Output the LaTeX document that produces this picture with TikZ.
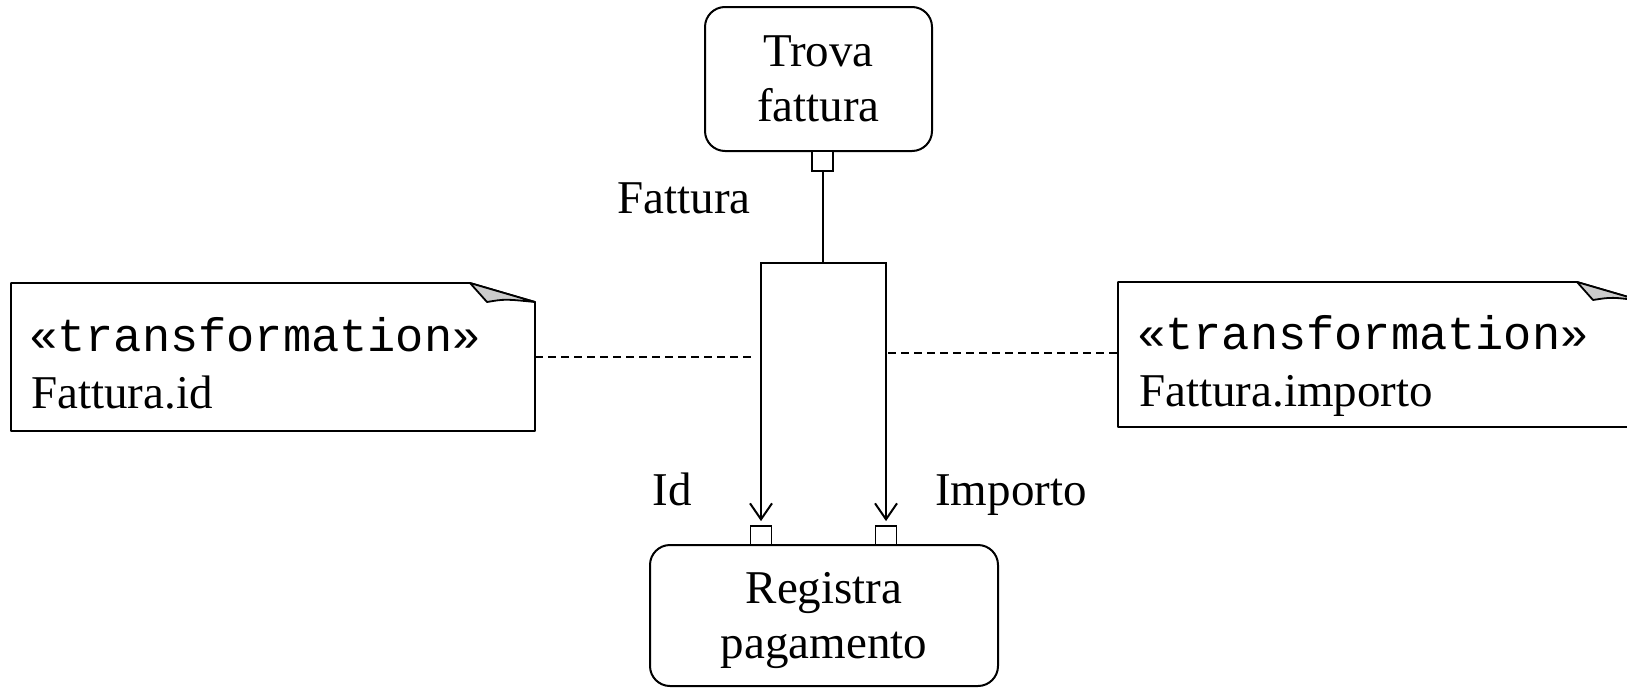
\documentclass[tikz,border=0pt]{standalone}
\usepackage{fontspec}
\setmainfont{Liberation Serif}
\setmonofont{Liberation Mono}
\usetikzlibrary{arrows.meta}
\begin{document}
\begin{tikzpicture}[x=1pt,y=-1pt,
  every node/.style={font=\fontsize{47}{55}\selectfont},
  proc/.style={draw, line width=2pt, rounded corners=20pt, inner sep=0pt, align=center},
  port/.style={draw, line width=1.8pt, fill=white, inner sep=0pt, minimum width=21pt, minimum height=19pt},
  notebox/.style={inner sep=0pt},
  lbl/.style={inner sep=0pt, anchor=base},
  ntxt/.style={inner sep=0pt, anchor=base west},
  conn/.style={line width=2pt},
  flow/.style={line width=2pt, -{Straight Barb[length=16pt,width=22pt]}},
  trace/.style={line width=1.6pt, dash pattern=on 8pt off 5pt},
  fold/.style={draw, line width=1.8pt, fill=black!20, line join=round}
]
\useasboundingbox (0,0) rectangle (1627,688);
\clip (0,0) rectangle (1627,688);

% activities
\node[proc, minimum width=227pt, minimum height=144pt] (trova) at (818.5,79) {Trova\\fattura};
\node[proc, minimum width=348pt, minimum height=141pt] (reg) at (824,615.5) {};
\node[inner sep=0pt, align=center] (regtxt) at (824,620.5) {Registra\\pagamento};

% pins
\node[port, minimum height=20pt] (tp) at (822.5,161) {};
\node[port] (rp1) at (761,535.5) {};
\node[port] (rp2) at (886,535.5) {};

% flows
\coordinate (j) at (822.5,263);
\coordinate (j1) at (761,263);
\coordinate (j2) at (886,263);
\draw[conn] (tp.south) -- (j);
\draw[conn, line cap=rect] (j1) -- (j2);
\draw[flow, shorten >=4pt] (j1) -- (rp1.north);
\draw[flow, shorten >=4pt] (j2) -- (rp2.north);

% labels
\node[lbl] (lfatt) at (684,213) {Fattura};
\node[lbl] (lid) at (672,505) {Id};
\node[lbl] (limp) at (1011,505) {Importo};

% notes
\node[notebox, minimum width=524pt, minimum height=148pt] (n1) at (273,357) {};
\draw[line width=1.8pt, line join=round] (11,283) -- (470,283) -- (535,302) -- (535,431) -- (11,431) -- cycle;
\draw[fold] (470,283) -- (487,302) .. controls (505,299) .. (535,302) -- cycle;
\node[ntxt] (n1a) at (29,351) {\ttfamily «transformation»};
\node[ntxt] (n1b) at (31,408) {Fattura.id};

\node[notebox, minimum width=524pt, minimum height=145pt] (n2) at (1380,354.5) {};
\draw[line width=1.8pt, line join=round] (1118,282) -- (1577,282) -- (1642,301) -- (1642,427) -- (1118,427) -- cycle;
\draw[fold] (1577,282) -- (1593,300) .. controls (1612,297) .. (1642,301) -- cycle;
\node[ntxt] (n2a) at (1137,349) {\ttfamily «transformation»};
\node[ntxt] (n2b) at (1139,406) {Fattura.importo};

% note attachments
\coordinate (d1) at (753,357);
\coordinate (d2) at (888,353);
\draw[trace] (535,357) -- (d1);
\draw[trace] (d2) -- (1118,353);
\end{tikzpicture}
\end{document}
